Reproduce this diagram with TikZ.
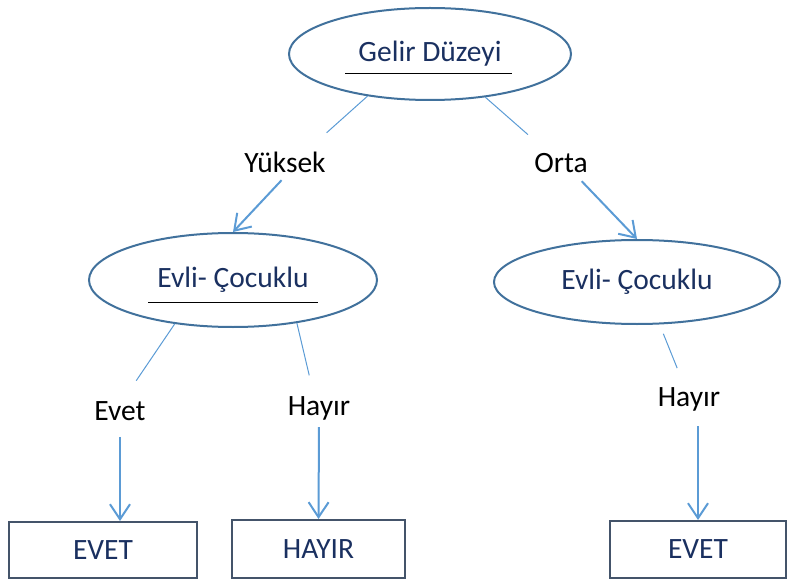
\documentclass[tikz,border=0pt]{standalone}
\usepackage{fontspec}
\setmainfont{Carlito}
\usetikzlibrary{shapes.geometric,arrows.meta}
\definecolor{navy}{HTML}{1A3060}
\definecolor{rim}{HTML}{41719C}
\definecolor{link}{HTML}{5B9BD5}
\definecolor{boxrim}{HTML}{44546A}

\begin{document}
\begin{tikzpicture}[x=1pt,y=-1pt,font=\fontsize{29.5}{35}\selectfont,
  oval/.style={ellipse,draw=rim,line width=2pt,text=navy},
  leaf/.style={rectangle,draw=boxrim,line width=2pt,text=navy},
  lbl/.style={inner sep=4pt},
  thinlink/.style={draw=link,line width=1pt},
  arr/.style={draw=link,line width=2pt,-{Straight Barb[length=15pt,width=20pt]}}]
\useasboundingbox (0,0) rectangle (787,580);
% ovals
\node[oval,minimum width=282,minimum height=92] (gelir) at (430,54) {Gelir Düzeyi};
\node[oval,minimum width=288,minimum height=94] (evli1) at (233,280) {Evli- Çocuklu};
\node[oval,minimum width=286,minimum height=84] (evli2) at (637,282) {Evli- Çocuklu};
\draw[line width=1pt] (gelir.center) ++(-85,20) -- ++(167,0);
\draw[line width=1pt] (evli1.center) ++(-85,22) -- ++(170,0);
% branch labels
\node[lbl] (yuksek) at (285,162) {Yüksek};
\node[lbl] (orta) at (561,163) {Orta};
\node[lbl] (evet) at (120,411) {Evet};
\node[lbl] (hayir1) at (319,408) {Hayır};
\node[lbl] (hayir2) at (689,399) {Hayır};
% leaves
\node[leaf,minimum width=188,minimum height=56] (evetbox) at (103,550) {EVET};
\node[leaf,minimum width=173,minimum height=58] (hayirbox) at (318.5,549) {HAYIR};
\node[leaf,minimum width=176,minimum height=57] (evet2) at (698,549.5) {EVET};
% connectors
\draw[thinlink,shorten >=22pt] (gelir.214) -- (yuksek.30);
\draw[arr,shorten <=5pt] (yuksek.south) -- (evli1.north);
\draw[thinlink,shorten >=22pt] (gelir.322) -- (orta.140);
\draw[arr,shorten <=6pt] (orta.-40) -- (evli2.north);
\draw[thinlink,shorten >=20pt] (evli1.217) -- (evet.70);
\draw[arr,shorten <=12pt] (evet.south) -- (evet.south |- evetbox.north);
\draw[thinlink,shorten >=17pt] (evli1.326) -- (hayir1.110);
\draw[arr,shorten <=3pt] (hayir1.south) -- (hayirbox.north);
\draw[thinlink,shorten <=10pt,shorten >=16pt] (evli2.298) -- (hayir2.110);
\draw[arr,shorten <=11pt] (evet2.north |- hayir2.south) -- (evet2.north);
\end{tikzpicture}
\end{document}
